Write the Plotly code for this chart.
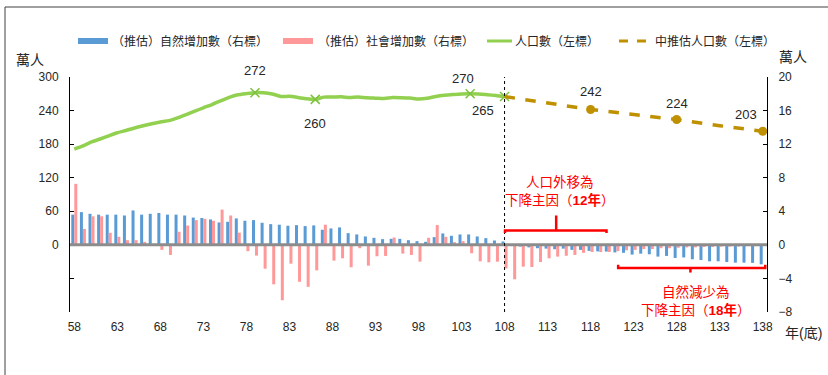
import plotly.graph_objects as go

# ---- data (萬人) ----
hist_years = list(range(58, 109))
hist_pop = [171.2, 177.0, 184.0, 189.2, 194.8, 200.3, 204.3, 208.9, 212.8, 216.4,
            219.6, 222.0, 227.1, 232.8, 238.8, 245.0, 250.8, 257.5, 263.7, 268.2,
            270.3, 272.0, 271.8, 269.6, 265.3, 265.4, 263.3, 261.0, 260.0, 264.0,
            264.1, 264.6, 263.4, 264.2, 262.7, 262.2, 261.6, 263.2, 262.9, 262.3,
            260.7, 261.9, 265.1, 267.3, 268.7, 269.8, 270.0, 269.6, 268.3, 266.9,
            265.0]

proj_years = [108, 113, 118, 123, 128, 133, 138]
proj_pop = [265.0, 254.0, 242.0, 233.0, 224.0, 213.0, 203.0]

hist_label_years = [79, 86, 104, 108]
proj_label_years = [118, 128, 138]

bar_years = list(range(58, 139))
natural_hist = [3.6, 3.9, 3.7, 3.6, 3.6, 3.6, 3.5, 4.1, 3.6, 3.7,
                3.8, 3.6, 3.6, 3.5, 3.25, 3.2, 3.03, 2.67, 2.75, 3.15,
                2.87, 2.95, 2.63, 2.47, 2.4, 2.28, 2.35, 2.24, 2.32, 1.8,
                1.96, 2.08, 1.4, 1.24, 1.0, 0.84, 0.68, 0.72, 0.72, 0.56,
                0.44, 0.36, 0.92, 1.36, 1.08, 1.24, 1.24, 1.0, 0.8, 0.52,
                0.4]
natural_proj = [-0.1, -0.2, -0.3, -0.4, -0.45, -0.52, -0.45, -0.6, -0.6, -0.72,
                -0.78, -0.8, -0.9, -0.95, -1.16, -1.05, -1.12, -1.4, -1.32, -1.56,
                -1.5, -1.72, -1.8, -1.96, -1.96, -2.04, -2.12, -2.12, -2.15, -2.32]
social_hist = [7.27, 1.9, 3.4, 3.4, 1.44, 0.96, 0.56, 0.56, 0.36, 0.05,
               -0.6, -1.2, 1.56, 2.3, 2.95, 3.1, 2.87, 4.2, 3.5, 1.45,
               -0.75, -1.28, -2.84, -4.7, -6.6, -2.24, -4.4, -5.0, -3.04, 2.4,
               -1.88, -1.6, -2.67, -0.4, -2.48, -1.36, -1.32, 0.88, -1.04, -1.2,
               -2.0, 0.84, 2.36, 0.96, 0.32, 0.44, -1.0, -1.96, -2.08, -2.0,
               -2.8]
social_proj = [-4.1, -2.6, -2.64, -2.04, -1.6, -1.4, -1.3, -1.2, -0.95, -0.85,
               -0.85, -0.85, -0.75, -0.65, -0.6, -0.5, -0.5, -0.4, -0.4, -0.35,
               -0.3, -0.3, -0.25, -0.25, -0.2, -0.2, -0.2, -0.15, -0.15, -0.1]

x_ticks = list(range(58, 139, 5))
left_ticks = [-120, -60, 0, 60, 120, 180, 240, 300]
right_ticks = [-8, -4, 0, 4, 8, 12, 16, 20]

legend_names = ["（推估）自然增加數（右標）", "（推估）社會增加數（右標）",
                "人口數（左標）", "中推估人口數（左標）"]

# ---- styling ----
BLUE = "#5B9BD5"
PINK = "#FF9999"
GREEN = "#92D050"
GOLD = "#BF9000"
RED = "#FF0000"
TXT = "#262626"
FONT = "Liberation Sans, Noto Sans CJK TC, sans-serif"

W, H = 828, 375
ML, MR, MT, MB = 70, 61, 77, 63
PW, PH = W - ML - MR, H - MT - MB


def px(xp):
    return (xp - ML) / PW


def py(yp):
    return (H - MB - yp) / PH


fig = go.Figure()

fig.add_trace(go.Bar(x=bar_years, y=natural_hist + natural_proj, yaxis="y2",
                     marker=dict(color=BLUE, line=dict(width=0)), showlegend=False))
fig.add_trace(go.Bar(x=bar_years, y=social_hist + social_proj, yaxis="y2",
                     marker=dict(color=PINK, line=dict(width=0)), showlegend=False))

fig.add_trace(go.Scatter(x=hist_years, y=hist_pop, mode="lines",
                         line=dict(color=GREEN, width=3.5, shape="spline", smoothing=0.6),
                         showlegend=False))
hist_lab_vals = [hist_pop[hist_years.index(y)] for y in hist_label_years]
fig.add_trace(go.Scatter(x=hist_label_years, y=hist_lab_vals, mode="markers",
                         marker=dict(symbol="x-thin", size=9,
                                     line=dict(color="#7DC242", width=1.5)),
                         showlegend=False))

fig.add_trace(go.Scatter(x=proj_years, y=proj_pop, mode="lines",
                         line=dict(color=GOLD, width=3.5, dash="dash"),
                         showlegend=False))
proj_lab_vals = [proj_pop[proj_years.index(y)] for y in proj_label_years]
fig.add_trace(go.Scatter(x=proj_label_years, y=proj_lab_vals, mode="markers",
                         marker=dict(symbol="circle", size=9, color=GOLD),
                         showlegend=False))

annotations = []
# value labels (xshift, yshift per point)
label_offsets = {79: (0, 22), 86: (0, -24), 104: (-7, 15), 108: (-22, -14),
                 118: (0, 18), 128: (0, 16), 138: (-17, 17)}
for yr, v in list(zip(hist_label_years, hist_lab_vals)) + list(zip(proj_label_years, proj_lab_vals)):
    dx, dy = label_offsets[yr]
    annotations.append(dict(x=yr, y=v, xref="x", yref="y", text=f"{v:.0f}",
                            showarrow=False, xshift=dx, yshift=dy,
                            xanchor="center", yanchor="middle",
                            font=dict(size=13, color=TXT)))

# red notes
annotations.append(dict(x=114.4, y=6.3, xref="x", yref="y2",
                        text="人口外移為<br>下降主因（<b>12年</b>）", showarrow=False,
                        xanchor="center", yanchor="middle",
                        font=dict(size=13.5, color=RED), align="center"))
annotations.append(dict(x=130.2, y=-6.65, xref="x", yref="y2",
                        text="自然減少為<br>下降主因（<b>18年</b>）", showarrow=False,
                        xanchor="center", yanchor="middle",
                        font=dict(size=13.5, color=RED), align="center"))

# unit labels
for xt, yt, txt in [(30, 60, "萬人"), (793, 57, "萬人"), (804, 333, "年(底)")]:
    annotations.append(dict(x=px(xt), y=py(yt), xref="paper", yref="paper", text=txt,
                            xanchor="center", yanchor="middle", showarrow=False,
                            font=dict(size=14, color=TXT)))

# legend texts
for xt, name in zip([110, 316, 513, 653], legend_names):
    annotations.append(dict(x=px(xt), y=py(41), xref="paper", yref="paper", text=name,
                            xanchor="left", yanchor="middle", showarrow=False,
                            font=dict(size=12, color=TXT)))

shapes = [
    # legend swatches
    dict(type="rect", xref="paper", yref="paper", x0=px(78), x1=px(108),
         y0=py(44), y1=py(38), fillcolor=BLUE, line=dict(width=0)),
    dict(type="rect", xref="paper", yref="paper", x0=px(283), x1=px(313),
         y0=py(44), y1=py(38), fillcolor=PINK, line=dict(width=0)),
    dict(type="line", xref="paper", yref="paper", x0=px(487), x1=px(512),
         y0=py(41), y1=py(41), line=dict(color=GREEN, width=3)),
    dict(type="line", xref="paper", yref="paper", x0=px(619), x1=px(648),
         y0=py(41), y1=py(41), line=dict(color=GOLD, width=3, dash="dash")),
    # zero line of the bar axis
    dict(type="line", xref="x", yref="y2", x0=57.5, x1=138.5, y0=0, y1=0,
         line=dict(color="#8C8C8C", width=3), layer="above"),
    # divider between observed and projected years
    dict(type="line", xref="x", yref="paper", x0=108, x1=108, y0=0, y1=1,
         line=dict(color="black", width=1, dash="dot"), layer="above"),
    # brackets
    dict(type="path", xref="x", yref="y2",
         path="M108.05,1.4 L108.05,1.7 L119.85,1.7 L119.85,1.4",
         line=dict(color=RED, width=2.5)),
    dict(type="line", xref="x", yref="y2", x0=114.0, x1=114.0, y0=1.7, y1=3.5,
         line=dict(color=RED, width=2.5)),
    dict(type="path", xref="x", yref="y2",
         path="M121.2,-2.36 L121.2,-2.75 L138.3,-2.75 L138.3,-2.36",
         line=dict(color=RED, width=2.5)),
    dict(type="line", xref="x", yref="y2", x0=129.6, x1=129.6, y0=-2.75, y1=-3.3,
         line=dict(color=RED, width=2.5)),
    # frame
    dict(type="line", xref="paper", yref="paper", x0=px(5), x1=px(5),
         y0=py(7), y1=py(375), line=dict(color="#404040", width=1)),
    dict(type="line", xref="paper", yref="paper", x0=px(5), x1=px(828),
         y0=py(7), y1=py(7), line=dict(color="#404040", width=1)),
]

fig.update_layout(
    width=W, height=H,
    margin=dict(l=ML, r=MR, t=MT, b=MB),
    paper_bgcolor="white", plot_bgcolor="white",
    font=dict(family=FONT, size=12, color=TXT),
    barmode="group", bargap=0.3, bargroupgap=0,
    showlegend=False,
    xaxis=dict(range=[57.5, 138.5], tickvals=x_ticks, showline=False, showgrid=False,
               zeroline=False, ticks="", tickfont=dict(size=12, color=TXT),
               ticklabelstandoff=6),
    yaxis=dict(range=[-120, 300], tickvals=left_ticks,
               ticktext=["" if t < 0 else str(t) for t in left_ticks],
               showline=True, linecolor="black", linewidth=1, ticks="inside",
               ticklen=4, tickcolor="black", showgrid=False, zeroline=False,
               tickfont=dict(size=12, color=TXT), ticklabelstandoff=8),
    yaxis2=dict(range=[-8, 20], tickvals=right_ticks, overlaying="y", side="right",
                showline=True, linecolor="black", linewidth=1, ticks="inside",
                ticklen=4, tickcolor="black", showgrid=False, zeroline=False,
                tickfont=dict(size=12, color=TXT), ticklabelstandoff=8),
    annotations=annotations,
    shapes=shapes,
)

fig.write_html("out.html")
